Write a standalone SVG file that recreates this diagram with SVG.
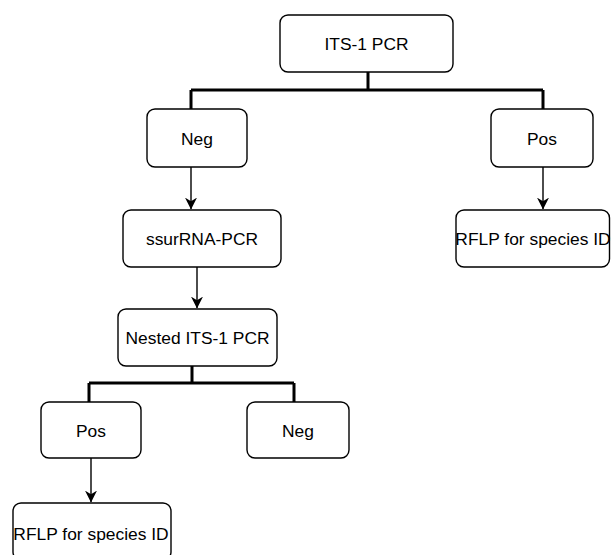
<svg xmlns="http://www.w3.org/2000/svg" width="611" height="555" viewBox="0 0 611 555">
<defs>
<style>
.box{fill:#fff;stroke:#000;stroke-width:1.4}
.t{font-family:"Liberation Sans",Arial,sans-serif;font-size:17.4px;fill:#000;text-anchor:middle}
.tree{fill:none;stroke:#000;stroke-width:3}
.arr{fill:none;stroke:#000;stroke-width:1.4;marker-end:url(#ah)}
</style>
<marker id="ah" viewBox="0 0 10 10" refX="9.5" refY="5" markerWidth="12" markerHeight="12" markerUnits="userSpaceOnUse" orient="auto">
<path d="M0,0 L10,5 L0,10 L3,5 Z" fill="#000"/>
</marker>
</defs>
<g id="connectors">
<path class="tree" d="M368,72 V90 M191,90 H543 M191,90 V109 M543,90 V109"/>
<path class="tree" d="M192,366 V383 M89,383 H294 M89,383 V402 M294,383 V402"/>
<line class="arr" x1="191" y1="167" x2="191" y2="209"/>
<line class="arr" x1="197" y1="267" x2="197" y2="308"/>
<line class="arr" x1="543" y1="167" x2="543" y2="209"/>
<line class="arr" x1="91" y1="458" x2="91" y2="502"/>
</g>
<g id="its1pcr"><rect class="box" x="280" y="15" width="173" height="57" rx="8"/><text class="t" x="366.5" y="50">ITS-1 PCR</text></g>
<g id="neg1"><rect class="box" x="147" y="109" width="100" height="58" rx="8"/><text class="t" x="197" y="145">Neg</text></g>
<g id="pos1"><rect class="box" x="491" y="109" width="102" height="58" rx="8"/><text class="t" x="542" y="145">Pos</text></g>
<g id="ssurrna"><rect class="box" x="123" y="210" width="158" height="57" rx="8"/><text class="t" x="202" y="245">ssurRNA-PCR</text></g>
<g id="rflp1"><rect class="box" x="456" y="210" width="153.5" height="57" rx="8"/><text class="t" x="533" y="245">RFLP for species ID</text></g>
<g id="nested"><rect class="box" x="118" y="309" width="159" height="57" rx="8"/><text class="t" x="197.5" y="344">Nested ITS-1 PCR</text></g>
<g id="pos2"><rect class="box" x="41" y="402" width="100" height="56" rx="8"/><text class="t" x="91" y="437">Pos</text></g>
<g id="neg2"><rect class="box" x="247" y="402" width="102" height="56" rx="8"/><text class="t" x="298" y="437">Neg</text></g>
<g id="rflp2"><rect class="box" x="13" y="503" width="158" height="57" rx="8"/><text class="t" x="91" y="540">RFLP for species ID</text></g>
</svg>
